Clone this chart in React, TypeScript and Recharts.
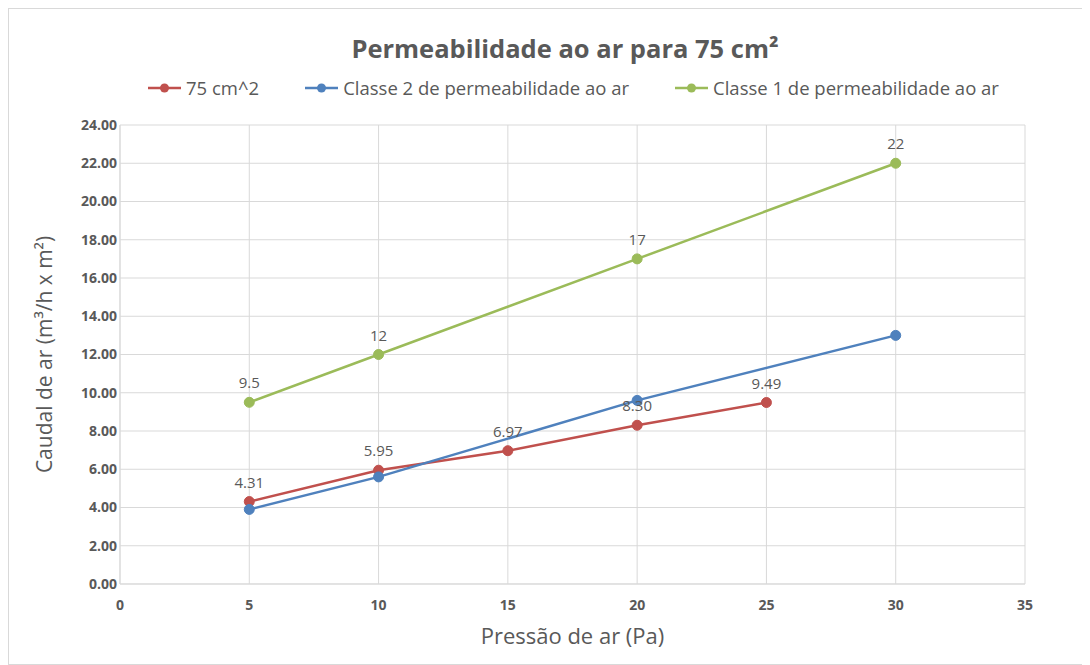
import React from 'react';
import { CartesianGrid, LabelList, Legend, Line, LineChart, XAxis, YAxis } from 'recharts';

const pressures75 = [5, 10, 15, 20, 25];
const flow75 = [4.31, 5.95, 6.97, 8.3, 9.49];

const pressuresClasse2 = [5, 10, 20, 30];
const flowClasse2 = [3.9, 5.6, 9.6, 13];

const pressuresClasse1 = [5, 10, 20, 30];
const flowClasse1 = [9.5, 12, 17, 22];

const xTicks = [0, 5, 10, 15, 20, 25, 30, 35];
const yTicks = [0, 2, 4, 6, 8, 10, 12, 14, 16, 18, 20, 22, 24];

const toPoints = (xs: number[], ys: number[]) => xs.map((x, i) => ({ x, y: ys[i] }));

const series = [
  { name: '75 cm^2', color: '#C0504D', data: toPoints(pressures75, flow75), fmt: (v: number) => v.toFixed(2) },
  { name: 'Classe 2 de permeabilidade ao ar', color: '#4F81BD', data: toPoints(pressuresClasse2, flowClasse2), fmt: null },
  { name: 'Classe 1 de permeabilidade ao ar', color: '#9BBB59', data: toPoints(pressuresClasse1, flowClasse1), fmt: (v: number) => String(v) },
];

const FONT = '"Open Sans", "Noto Sans", sans-serif';
const GREY = '#595959';

const LegendContent = () => (
  <div
    style={{
      display: 'flex',
      justifyContent: 'center',
      gap: 46,
      paddingLeft: 92,
      fontFamily: FONT,
      fontSize: 18.5,
      color: GREY,
    }}
  >
    {series.map((s) => (
      <div key={s.name} style={{ display: 'flex', alignItems: 'center' }}>
        <svg width={33} height={12} style={{ marginRight: 5 }}>
          <line x1={0} y1={6} x2={33} y2={6} stroke={s.color} strokeWidth={2.5} />
          <circle cx={16.5} cy={6} r={4.5} fill={s.color} />
        </svg>
        <span>{s.name}</span>
      </div>
    ))}
  </div>
);

export default function App() {
  return (
    <div
      style={{
        position: 'relative',
        width: 1074,
        height: 655,
        border: '1px solid #d9d9d9',
        background: '#fff',
        fontFamily: FONT,
      }}
    >
      <div
        style={{
          position: 'absolute',
          top: 22,
          left: 38,
          width: 1036,
          textAlign: 'center',
          fontSize: 25.5,
          fontWeight: 700,
          color: GREY,
        }}
      >
        Permeabilidade ao ar para 75 cm²
      </div>
      <LineChart width={1074} height={655} margin={{ top: 80, right: 58, bottom: 20, left: 21 }}>
        <CartesianGrid stroke="#d9d9d9" />
        <XAxis
          dataKey="x"
          type="number"
          domain={[0, 35]}
          ticks={xTicks}
          height={60}
          stroke="#d9d9d9"
          tickLine={false}
          tick={{ fill: GREY, fontSize: 14, fontWeight: 700, fontFamily: FONT }}
          tickMargin={10}
          label={{ value: 'Pressão de ar (Pa)', position: 'insideBottom', offset: 0, fill: GREY, fontSize: 22, fontFamily: FONT }}
        />
        <YAxis
          type="number"
          domain={[0, 24]}
          ticks={yTicks}
          width={90}
          stroke="#d9d9d9"
          tickLine={false}
          tickSize={3}
          tickMargin={0}
          tickFormatter={(v: number) => v.toFixed(2)}
          tick={{ fill: GREY, fontSize: 14, fontWeight: 700, fontFamily: FONT }}
          label={{
            value: 'Caudal de ar (m³/h x m²)',
            angle: -90,
            position: 'insideLeft',
            offset: 15,
            textAnchor: 'middle',
            fill: GREY,
            fontSize: 21,
            fontFamily: FONT,
          }}
        />
        <Legend verticalAlign="top" height={36} wrapperStyle={{ top: 66 }} content={<LegendContent />} />
        {series.map((s) => (
          <Line
            key={s.name}
            name={s.name}
            data={s.data}
            dataKey="y"
            type="linear"
            stroke={s.color}
            strokeWidth={2.5}
            dot={{ r: 5, fill: s.color, stroke: s.color, strokeWidth: 1 }}
            activeDot={false}
            isAnimationActive={false}
          >
            {s.fmt && (
              <LabelList
                dataKey="y"
                position="top"
                offset={14}
                formatter={s.fmt as any}
                style={{ fill: GREY, fontSize: 15, fontFamily: FONT }}
              />
            )}
          </Line>
        ))}
      </LineChart>
    </div>
  );
}
